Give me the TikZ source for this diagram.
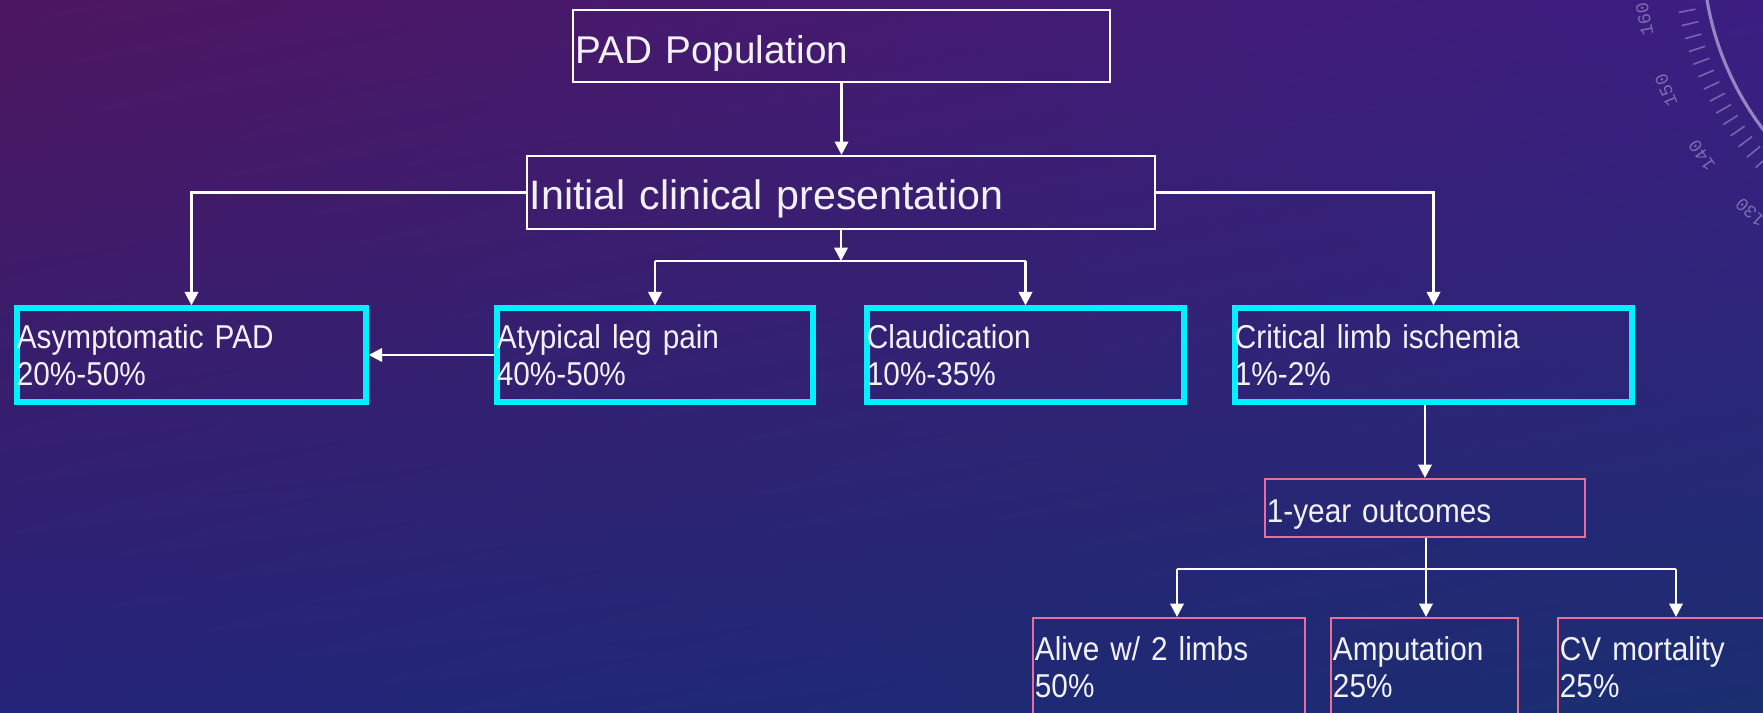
\documentclass[tikz,border=0pt]{standalone}
\usepackage{fontspec}
\setmainfont{Liberation Sans}[FakeStretch=0.9]
\newfontfamily\plainfont{Liberation Sans}
\newfontfamily\dialfont{Liberation Mono}
\usetikzlibrary{arrows.meta,shadings}
\definecolor{bgUL}{RGB}{78,22,96}
\definecolor{bgUR}{RGB}{60,30,130}
\definecolor{bgLL}{RGB}{36,36,122}
\definecolor{bgLR}{RGB}{26,46,112}
\definecolor{boxcyan}{RGB}{0,240,255}
\definecolor{boxpink}{RGB}{232,112,152}
\definecolor{dialcol}{RGB}{170,160,212}
\definecolor{txtcol}{RGB}{242,242,246}
\begin{document}
\begin{tikzpicture}[x=0.01cm,y=-0.01cm,
  txt/.style={text=txtcol, align=left, inner xsep=0pt, inner ysep=0pt, anchor=center},
  bigbox/.style={txt, draw=white, line width=0.6pt, inner xsep=0.03cm, text depth=0pt},
  cbox/.style={txt, draw=boxcyan, line width=1.5pt, minimum height=0.94cm,
    font=\fontsize{9.4pt}{10.5pt}\selectfont},
  pbox/.style={txt, draw=boxpink, line width=0.6pt, inner xsep=0.02cm,
    font=\fontsize{9.4pt}{10.5pt}\selectfont},
  conn/.style={draw=white, line width=0.7pt},
  arr/.style={conn, -{Triangle[width=3.8pt,length=3.8pt]}},
  dialline/.style={draw=dialcol, draw opacity=0.55},
  dialnum/.style={text=dialcol, text opacity=0.6, inner sep=0pt,
    font=\dialfont\fontsize{5.2pt}{6pt}\selectfont}
]
\useasboundingbox (0,0) rectangle (1763,713);
\clip (0,0) rectangle (1763,713);
\shade[upper left=bgUL, upper right=bgUR, lower left=bgLL, lower right=bgLR]
  (0,0) rectangle (1763,713);

% decorative dial
\begin{scope}[shift={(2000,-50)}]
  \draw[draw=dialcol, draw opacity=0.8, line width=0.9pt] (0,0) circle (2.97cm);
  \foreach \v in {120,122,...,174}{
    \pgfmathsetmacro\a{191+(160-\v)*1.18}
    \draw[dialline, line width=0.45pt] (\a:3.10cm) -- (\a:3.27cm);
  }
  \foreach \v in {130,140,150,160}{
    \pgfmathsetmacro\a{191+(160-\v)*1.18}
    \node[dialnum, rotate=\a-90] (d\v) at (\a:3.62cm) {\v};
  }
\end{scope}

% boxes
\node[bigbox, font=\plainfont\fontsize{11pt}{13pt}\selectfont, text width=5.31cm,
  text height=0.34cm, minimum height=0.72cm] (pad) at (841.5,46) {PAD Population};
\node[bigbox, font=\plainfont\fontsize{11.7pt}{14pt}\selectfont, text width=6.22cm,
  text height=0.33cm, minimum height=0.73cm] (init) at (841,192.5) {Initial clinical presentation};

\node[cbox, text width=3.49cm] (asym) at (191.5,355) {Asymptomatic PAD\\20\%-50\%};
\node[cbox, text width=3.16cm] (atyp) at (655,355) {Atypical leg pain\\40\%-50\%};
\node[cbox, text width=3.17cm] (claud) at (1025.5,355) {Claudication\\10\%-35\%};
\node[cbox, text width=3.97cm] (crit) at (1433.5,355) {Critical limb ischemia\\1\%-2\%};

\node[pbox, text width=3.16cm, text height=0.28cm, text depth=0pt,
  minimum height=0.58cm] (oneyr) at (1425,508) {1-year outcomes};
\node[pbox, text width=2.68cm, minimum height=0.98cm] (alive) at (1169,667) {Alive w/ 2 limbs\\50\%};
\node[pbox, text width=1.83cm, minimum height=0.98cm] (amp) at (1424.5,667) {Amputation\\25\%};
\node[pbox, text width=2.32cm, minimum height=0.98cm] (cv) at (1676,667) {CV mortality\\25\%};

% connectors
\draw[arr] (pad.south) -- (pad.south |- init.north);
\draw[arr] (init.west) -| (asym.north);
\draw[arr] (init.east) -| (crit.north);
\coordinate (bar1) at (841,261);
\draw[arr] (init.south) -- (bar1);
\draw[conn] (atyp.north |- bar1) -- (claud.north |- bar1);
\draw[arr] (atyp.north |- bar1) -- (atyp.north);
\draw[arr] (claud.north |- bar1) -- (claud.north);
\draw[arr] (atyp.west) -- (asym.east);
\draw[arr] (oneyr.north |- crit.south) -- (oneyr.north);
\coordinate (bar2) at (1426,569);
\coordinate (b1) at (1177,569);
\coordinate (b3) at (1676,569);
\draw[conn] (oneyr.south -| bar2) -- (bar2);
\draw[conn] (b1) -- (b3);
\draw[arr] (b1) -- (b1 |- alive.north);
\draw[arr] (bar2) -- (bar2 |- amp.north);
\draw[arr] (b3) -- (b3 |- cv.north);
\end{tikzpicture}
\end{document}
